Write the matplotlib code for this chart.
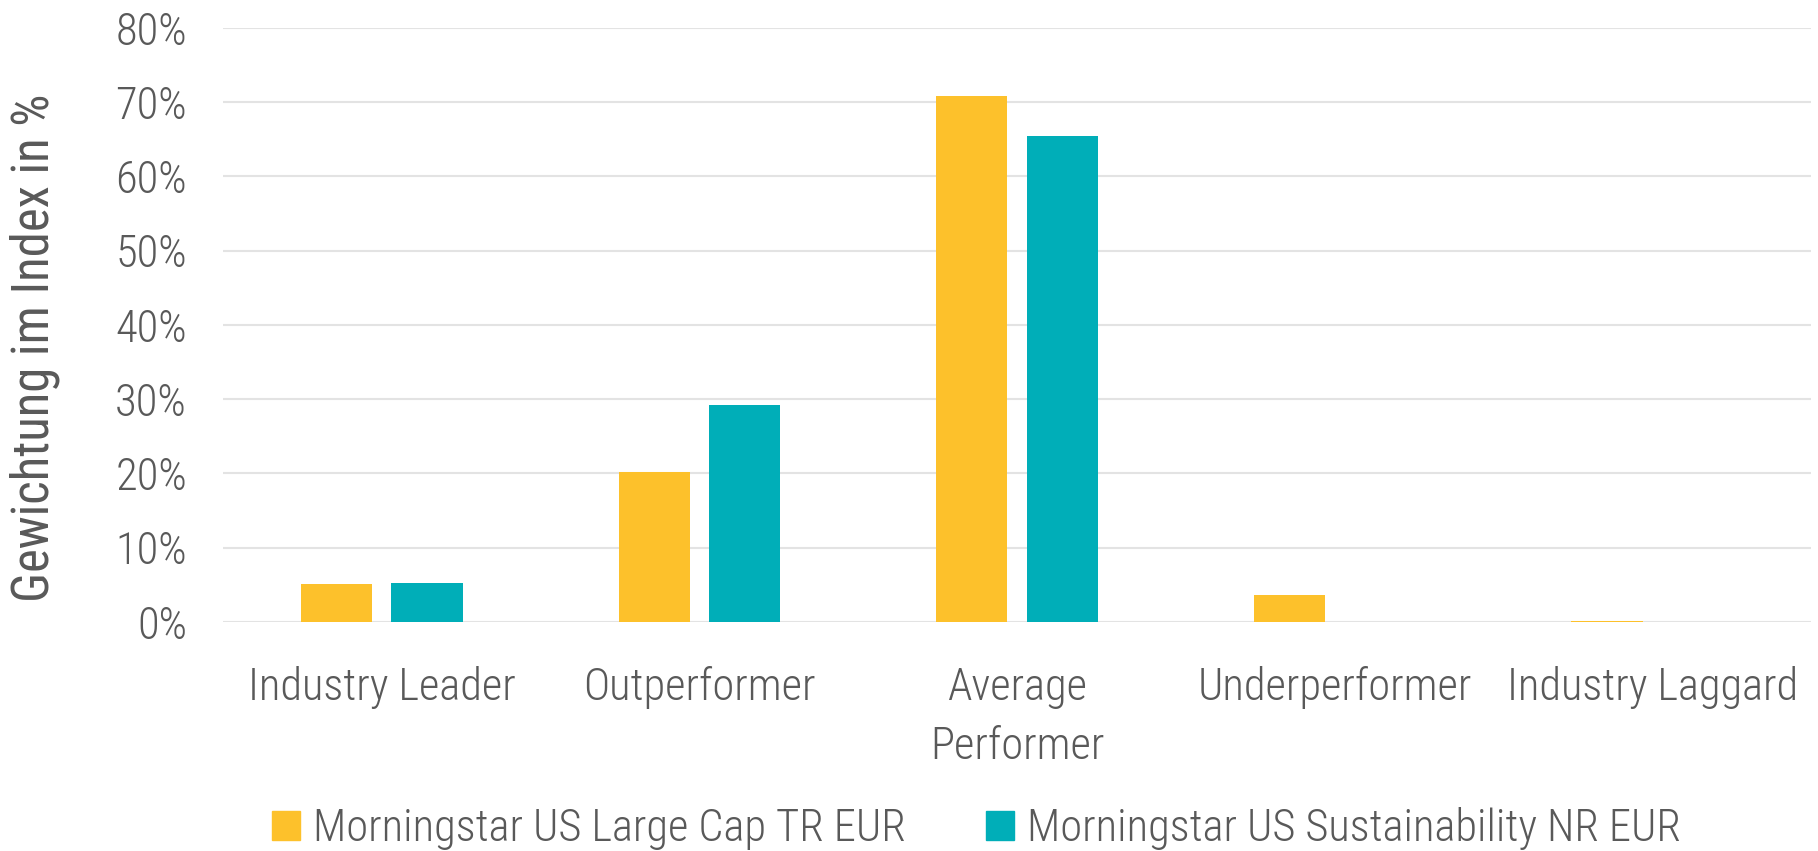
import matplotlib
matplotlib.use('Agg')
import matplotlib.pyplot as plt
from matplotlib import font_manager
from matplotlib.patches import Patch
import numpy as np

categories = ['Industry Leader', 'Outperformer', 'Average\nPerformer', 'Underperformer', 'Industry Laggard']
large_cap = [5.15, 20.2, 70.8, 3.7, 0.1]
sustainability = [5.25, 29.2, 65.5, 0.05, 0.0]
series_names = ['Morningstar US Large Cap TR EUR', 'Morningstar US Sustainability NR EUR']
yticks = [0, 10, 20, 30, 40, 50, 60, 70, 80]

available = {f.name for f in font_manager.fontManager.ttflist}
family = 'DejaVu Sans'
for name in ['Liberation Sans Narrow', 'Roboto Condensed', 'Roboto']:
    if name in available:
        family = name
        break
plt.rcParams['font.family'] = [family, 'DejaVu Sans']
plt.rcParams['font.weight'] = 'light'

gray = '#595959'
yellow = '#FDC12B'
teal = '#00AEB8'

fig = plt.figure(figsize=(18.18, 8.51), dpi=100)
ax = fig.add_axes([0.1227, 0.2691, 0.8734, 0.698])

x = np.arange(len(categories))
w = 0.224
off = 0.142
ax.bar(x - off, large_cap, w, color=yellow, zorder=3)
ax.bar(x + off, sustainability, w, color=teal, zorder=3)

ax.set_xlim(-0.5, len(categories) - 0.5)
ax.set_ylim(0, 80)
ax.set_yticks(yticks)
ax.set_yticklabels([f'{t}%' for t in yticks])
ax.set_xticks(x)
ax.set_xticklabels(categories, linespacing=1.5)
ax.yaxis.grid(True, color='#E3E3E3', linewidth=1.5, zorder=0)
for s in ax.spines.values():
    s.set_visible(False)
ax.tick_params(axis='both', length=0, labelsize=32, labelcolor=gray)
ax.tick_params(axis='y', pad=26)
ax.tick_params(axis='x', pad=32)
ax.set_ylabel('Gewichtung im Index in %', fontsize=36.5, color=gray)
ax.yaxis.set_label_coords(-0.103, 0.461)

handles = [Patch(color=yellow), Patch(color=teal)]
fig.legend(handles, series_names, loc='center', bbox_to_anchor=(0.537, 0.026), ncol=2,
           frameon=False, fontsize=32, labelcolor=gray, handlelength=0.63, handleheight=0.63,
           handletextpad=0.3, columnspacing=1.8)

fig.savefig('out.png', dpi=100)
